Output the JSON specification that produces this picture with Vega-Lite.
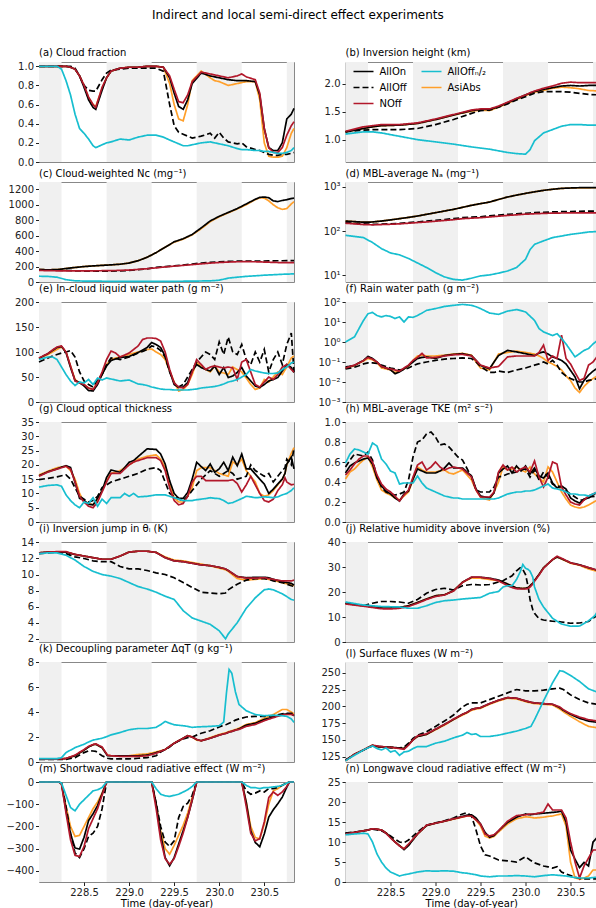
{
"$schema":"https://vega.github.io/schema/vega-lite/v6.json",
"padding":{"left":5,"top":9,"right":0,"bottom":0},
"title":{"text":"Indirect and local semi-direct effect experiments","fontSize":12,"anchor":"middle","frame":"bounds","offset":25,"dx":-7},
"columns":2,
"spacing":{"row":20,"column":51.5},
"bounds":"flush",
"resolve":{"scale":{"color":"independent","strokeDash":"independent"},"legend":{"color":"independent","strokeDash":"independent"}},
"config":{
 "font":"DejaVu Sans",
 "view":{"stroke":"#888888","strokeWidth":1},
 "title":{"fontSize":10,"fontWeight":"normal","anchor":"start","frame":"group","offset":3,"color":"#000000"},
 "axis":{"grid":false,"domain":false,"labelFontSize":10,"titleFontSize":10,"titleFontWeight":"normal","labelColor":"#222222","tickColor":"#222222","titleColor":"#000000","tickSize":3.5,"labelPadding":2,"titlePadding":1},
 "axisX":{"labels":false,"ticks":false},
 "line":{"strokeWidth":1.7,"clip":true}
},
"datasets":{
"bands":[{"x0":228,"x1":228.25},{"x0":228.75,"x1":229.25},{"x0":229.75,"x1":230.25},{"x0":230.75,"x1":230.83}],
"a":[
{"t":228.0,"on":1,"off":1,"noff":1,"n2":1,"asi":1},
{"t":228.2,"on":1,"off":1,"noff":1,"n2":1,"asi":1},
{"t":228.25,"on":1,"off":1,"noff":1,"n2":0.97,"asi":1},
{"t":228.3,"on":1,"off":1,"noff":1,"n2":0.85,"asi":1},
{"t":228.35,"on":0.99,"off":1,"noff":0.99,"n2":0.7,"asi":0.99},
{"t":228.4,"on":0.97,"off":0.98,"noff":0.97,"n2":0.5,"asi":0.97},
{"t":228.45,"on":0.9,"off":0.9,"noff":0.9,"n2":0.35,"asi":0.9},
{"t":228.5,"on":0.78,"off":0.8,"noff":0.8,"n2":0.3,"asi":0.8},
{"t":228.55,"on":0.65,"off":0.75,"noff":0.68,"n2":0.24,"asi":0.67},
{"t":228.6,"on":0.57,"off":0.74,"noff":0.6,"n2":0.17,"asi":0.6},
{"t":228.63,"on":0.55,"off":0.74,"noff":0.57,"n2":0.15,"asi":0.58},
{"t":228.7,"on":0.75,"off":0.86,"noff":0.78,"n2":0.18,"asi":0.77},
{"t":228.75,"on":0.88,"off":0.93,"noff":0.88,"n2":0.2,"asi":0.88},
{"t":228.8,"on":0.95,"off":0.96,"noff":0.95,"n2":0.21,"asi":0.95},
{"t":228.9,"on":0.98,"off":0.97,"noff":0.98,"n2":0.24,"asi":0.98},
{"t":229.0,"on":0.99,"off":0.98,"noff":0.99,"n2":0.23,"asi":0.99},
{"t":229.1,"on":0.99,"off":0.98,"noff":0.99,"n2":0.26,"asi":0.99},
{"t":229.2,"on":1,"off":0.98,"noff":1,"n2":0.28,"asi":1},
{"t":229.3,"on":1,"off":0.98,"noff":1,"n2":0.28,"asi":1},
{"t":229.38,"on":0.99,"off":0.95,"noff":0.99,"n2":0.26,"asi":0.99},
{"t":229.45,"on":0.88,"off":0.6,"noff":0.9,"n2":0.23,"asi":0.82},
{"t":229.5,"on":0.72,"off":0.38,"noff":0.76,"n2":0.21,"asi":0.6},
{"t":229.55,"on":0.58,"off":0.31,"noff":0.63,"n2":0.19,"asi":0.45},
{"t":229.6,"on":0.55,"off":0.29,"noff":0.62,"n2":0.17,"asi":0.43},
{"t":229.65,"on":0.65,"off":0.27,"noff":0.7,"n2":0.17,"asi":0.6},
{"t":229.7,"on":0.82,"off":0.25,"noff":0.84,"n2":0.18,"asi":0.85},
{"t":229.8,"on":0.93,"off":0.27,"noff":0.94,"n2":0.2,"asi":0.95},
{"t":229.9,"on":0.9,"off":0.3,"noff":0.92,"n2":0.21,"asi":0.88},
{"t":229.95,"on":0.89,"off":0.25,"noff":0.91,"n2":0.2,"asi":0.85},
{"t":230.0,"on":0.88,"off":0.31,"noff":0.9,"n2":0.19,"asi":0.84},
{"t":230.05,"on":0.87,"off":0.25,"noff":0.89,"n2":0.18,"asi":0.82},
{"t":230.1,"on":0.86,"off":0.21,"noff":0.88,"n2":0.17,"asi":0.8},
{"t":230.2,"on":0.85,"off":0.19,"noff":0.9,"n2":0.14,"asi":0.82},
{"t":230.25,"on":0.85,"off":0.2,"noff":0.92,"n2":0.13,"asi":0.83},
{"t":230.3,"on":0.85,"off":0.16,"noff":0.89,"n2":0.13,"asi":0.84},
{"t":230.4,"on":0.84,"off":0.13,"noff":0.86,"n2":0.12,"asi":0.84},
{"t":230.45,"on":0.7,"off":0.12,"noff":0.72,"n2":0.12,"asi":0.65},
{"t":230.5,"on":0.35,"off":0.1,"noff":0.35,"n2":0.11,"asi":0.2},
{"t":230.55,"on":0.15,"off":0.08,"noff":0.15,"n2":0.11,"asi":0.06},
{"t":230.6,"on":0.12,"off":0.07,"noff":0.1,"n2":0.1,"asi":0.05},
{"t":230.65,"on":0.12,"off":0.07,"noff":0.1,"n2":0.09,"asi":0.05},
{"t":230.7,"on":0.2,"off":0.08,"noff":0.15,"n2":0.09,"asi":0.06},
{"t":230.75,"on":0.45,"off":0.08,"noff":0.28,"n2":0.1,"asi":0.15},
{"t":230.8,"on":0.5,"off":0.09,"noff":0.38,"n2":0.12,"asi":0.3},
{"t":230.83,"on":0.56,"off":0.1,"noff":0.42,"n2":0.15,"asi":0.35}
],
"b":[
{"t":228.0,"on":1.14,"off":1.14,"noff":1.15,"n2":1.1,"asi":1.14},
{"t":228.2,"on":1.2,"off":1.17,"noff":1.23,"n2":1.14,"asi":1.2},
{"t":228.3,"on":1.23,"off":1.18,"noff":1.25,"n2":1.14,"asi":1.23},
{"t":228.4,"on":1.25,"off":1.18,"noff":1.27,"n2":1.12,"asi":1.25},
{"t":228.6,"on":1.26,"off":1.18,"noff":1.27,"n2":1.06,"asi":1.26},
{"t":228.8,"on":1.29,"off":1.2,"noff":1.3,"n2":1.0,"asi":1.29},
{"t":229.0,"on":1.36,"off":1.27,"noff":1.37,"n2":0.96,"asi":1.36},
{"t":229.2,"on":1.44,"off":1.36,"noff":1.45,"n2":0.92,"asi":1.44},
{"t":229.4,"on":1.52,"off":1.47,"noff":1.53,"n2":0.87,"asi":1.51},
{"t":229.5,"on":1.54,"off":1.52,"noff":1.55,"n2":0.85,"asi":1.53},
{"t":229.6,"on":1.54,"off":1.53,"noff":1.55,"n2":0.83,"asi":1.52},
{"t":229.7,"on":1.59,"off":1.58,"noff":1.6,"n2":0.8,"asi":1.58},
{"t":229.8,"on":1.66,"off":1.64,"noff":1.67,"n2":0.77,"asi":1.65},
{"t":229.9,"on":1.73,"off":1.71,"noff":1.74,"n2":0.75,"asi":1.72},
{"t":230.0,"on":1.8,"off":1.77,"noff":1.8,"n2":0.74,"asi":1.79},
{"t":230.05,"on":1.83,"off":1.8,"noff":1.84,"n2":0.82,"asi":1.82},
{"t":230.1,"on":1.86,"off":1.83,"noff":1.87,"n2":0.98,"asi":1.85},
{"t":230.2,"on":1.9,"off":1.86,"noff":1.92,"n2":1.12,"asi":1.88},
{"t":230.3,"on":1.93,"off":1.86,"noff":1.96,"n2":1.18,"asi":1.92},
{"t":230.4,"on":1.96,"off":1.86,"noff":2.01,"n2":1.24,"asi":1.94},
{"t":230.5,"on":1.97,"off":1.85,"noff":2.03,"n2":1.27,"asi":1.93},
{"t":230.6,"on":1.96,"off":1.83,"noff":2.02,"n2":1.27,"asi":1.91},
{"t":230.7,"on":1.97,"off":1.81,"noff":2.02,"n2":1.26,"asi":1.88},
{"t":230.83,"on":1.97,"off":1.8,"noff":2.02,"n2":1.26,"asi":1.87}
],
"c":[
{"t":228.0,"on":160,"off":160,"noff":150,"n2":75,"asi":160},
{"t":228.1,"on":158,"off":155,"noff":147,"n2":72,"asi":158},
{"t":228.2,"on":160,"off":152,"noff":145,"n2":62,"asi":160},
{"t":228.3,"on":175,"off":150,"noff":145,"n2":30,"asi":175},
{"t":228.4,"on":188,"off":145,"noff":145,"n2":15,"asi":188},
{"t":228.5,"on":200,"off":142,"noff":145,"n2":12,"asi":200},
{"t":228.6,"on":208,"off":140,"noff":145,"n2":11,"asi":208},
{"t":228.7,"on":215,"off":140,"noff":146,"n2":10,"asi":215},
{"t":228.8,"on":222,"off":142,"noff":148,"n2":9,"asi":222},
{"t":228.9,"on":230,"off":145,"noff":150,"n2":9,"asi":230},
{"t":229.0,"on":245,"off":150,"noff":155,"n2":8,"asi":245},
{"t":229.1,"on":275,"off":160,"noff":163,"n2":8,"asi":275},
{"t":229.2,"on":320,"off":170,"noff":172,"n2":8,"asi":320},
{"t":229.3,"on":380,"off":190,"noff":183,"n2":8,"asi":380},
{"t":229.4,"on":450,"off":200,"noff":195,"n2":9,"asi":450},
{"t":229.5,"on":520,"off":210,"noff":205,"n2":9,"asi":515},
{"t":229.6,"on":560,"off":220,"noff":215,"n2":10,"asi":555},
{"t":229.7,"on":615,"off":232,"noff":225,"n2":11,"asi":610},
{"t":229.8,"on":700,"off":245,"noff":235,"n2":13,"asi":690},
{"t":229.9,"on":790,"off":255,"noff":245,"n2":15,"asi":780},
{"t":230.0,"on":850,"off":262,"noff":252,"n2":23,"asi":845},
{"t":230.1,"on":900,"off":266,"noff":258,"n2":50,"asi":895},
{"t":230.2,"on":950,"off":270,"noff":262,"n2":62,"asi":945},
{"t":230.3,"on":1010,"off":272,"noff":263,"n2":73,"asi":1000},
{"t":230.4,"on":1070,"off":272,"noff":262,"n2":80,"asi":1065},
{"t":230.45,"on":1095,"off":272,"noff":260,"n2":84,"asi":1090},
{"t":230.5,"on":1100,"off":272,"noff":258,"n2":88,"asi":1085},
{"t":230.55,"on":1090,"off":273,"noff":256,"n2":91,"asi":1050},
{"t":230.6,"on":1050,"off":274,"noff":254,"n2":94,"asi":1000},
{"t":230.65,"on":1040,"off":275,"noff":252,"n2":97,"asi":960},
{"t":230.7,"on":1055,"off":275,"noff":251,"n2":100,"asi":940},
{"t":230.75,"on":1065,"off":276,"noff":250,"n2":102,"asi":950},
{"t":230.8,"on":1080,"off":276,"noff":250,"n2":104,"asi":1010},
{"t":230.83,"on":1085,"off":276,"noff":250,"n2":105,"asi":1040}
],
"d":[
{"t":228.0,"on":168,"off":154,"noff":150,"n2":80,"asi":168},
{"t":228.2,"on":158,"off":145,"noff":140,"n2":71,"asi":158},
{"t":228.3,"on":160,"off":141,"noff":138,"n2":55,"asi":160},
{"t":228.4,"on":168,"off":143,"noff":140,"n2":40,"asi":168},
{"t":228.5,"on":178,"off":146,"noff":142,"n2":32,"asi":178},
{"t":228.6,"on":190,"off":149,"noff":145,"n2":29,"asi":190},
{"t":228.7,"on":203,"off":155,"noff":150,"n2":24,"asi":203},
{"t":228.8,"on":218,"off":160,"noff":155,"n2":19,"asi":218},
{"t":228.9,"on":238,"off":168,"noff":160,"n2":15,"asi":238},
{"t":229.0,"on":259,"off":175,"noff":166,"n2":11.5,"asi":259},
{"t":229.1,"on":283,"off":182,"noff":173,"n2":9.2,"asi":283},
{"t":229.2,"on":308,"off":190,"noff":180,"n2":8.1,"asi":308},
{"t":229.3,"on":342,"off":200,"noff":190,"n2":7.8,"asi":342},
{"t":229.4,"on":380,"off":205,"noff":195,"n2":8.6,"asi":380},
{"t":229.5,"on":415,"off":210,"noff":200,"n2":9.7,"asi":415},
{"t":229.6,"on":450,"off":220,"noff":208,"n2":10.2,"asi":450},
{"t":229.7,"on":515,"off":228,"noff":216,"n2":11.2,"asi":515},
{"t":229.8,"on":585,"off":237,"noff":225,"n2":12.5,"asi":585},
{"t":229.9,"on":645,"off":245,"noff":232,"n2":15,"asi":645},
{"t":230.0,"on":707,"off":252,"noff":240,"n2":23,"asi":707},
{"t":230.05,"on":735,"off":255,"noff":242,"n2":38,"asi":735},
{"t":230.1,"on":765,"off":259,"noff":245,"n2":50,"asi":765},
{"t":230.2,"on":827,"off":265,"noff":250,"n2":60,"asi":827},
{"t":230.3,"on":875,"off":269,"noff":253,"n2":71,"asi":875},
{"t":230.4,"on":917,"off":273,"noff":255,"n2":77,"asi":917},
{"t":230.5,"on":935,"off":276,"noff":256,"n2":84,"asi":930},
{"t":230.6,"on":950,"off":279,"noff":257,"n2":89,"asi":940},
{"t":230.7,"on":955,"off":281,"noff":258,"n2":95,"asi":945},
{"t":230.83,"on":960,"off":283,"noff":258,"n2":98,"asi":950}
],
"e":[
{"t":228.0,"on":87,"off":80,"noff":88,"n2":85,"asi":87},
{"t":228.1,"on":97,"off":88,"noff":97,"n2":90,"asi":95},
{"t":228.15,"on":103,"off":92,"noff":104,"n2":90,"asi":100},
{"t":228.2,"on":109,"off":95,"noff":110,"n2":85,"asi":105},
{"t":228.25,"on":111,"off":98,"noff":112,"n2":70,"asi":110},
{"t":228.3,"on":99,"off":100,"noff":100,"n2":55,"asi":100},
{"t":228.35,"on":69,"off":103,"noff":72,"n2":42,"asi":72},
{"t":228.4,"on":43,"off":90,"noff":42,"n2":33,"asi":45},
{"t":228.45,"on":39,"off":60,"noff":38,"n2":40,"asi":38},
{"t":228.5,"on":32,"off":42,"noff":35,"n2":38,"asi":35},
{"t":228.55,"on":23,"off":35,"noff":28,"n2":45,"asi":28},
{"t":228.6,"on":22,"off":30,"noff":25,"n2":35,"asi":25},
{"t":228.65,"on":35,"off":45,"noff":38,"n2":48,"asi":40},
{"t":228.7,"on":55,"off":55,"noff":60,"n2":44,"asi":55},
{"t":228.75,"on":72,"off":75,"noff":85,"n2":48,"asi":75},
{"t":228.8,"on":83,"off":88,"noff":102,"n2":46,"asi":85},
{"t":228.85,"on":86,"off":87,"noff":98,"n2":44,"asi":88},
{"t":228.9,"on":89,"off":85,"noff":90,"n2":42,"asi":90},
{"t":229.0,"on":91,"off":90,"noff":98,"n2":44,"asi":95},
{"t":229.1,"on":99,"off":98,"noff":112,"n2":36,"asi":100},
{"t":229.15,"on":104,"off":101,"noff":125,"n2":35,"asi":102},
{"t":229.2,"on":109,"off":105,"noff":128,"n2":33,"asi":105},
{"t":229.25,"on":119,"off":112,"noff":128,"n2":30,"asi":106},
{"t":229.3,"on":115,"off":110,"noff":127,"n2":28,"asi":100},
{"t":229.35,"on":109,"off":103,"noff":122,"n2":26,"asi":95},
{"t":229.4,"on":92,"off":90,"noff":100,"n2":25,"asi":85},
{"t":229.45,"on":62,"off":60,"noff":65,"n2":25,"asi":62},
{"t":229.5,"on":35,"off":38,"noff":38,"n2":24,"asi":40},
{"t":229.55,"on":29,"off":30,"noff":30,"n2":24,"asi":22},
{"t":229.6,"on":30,"off":35,"noff":28,"n2":24,"asi":25},
{"t":229.65,"on":39,"off":50,"noff":35,"n2":24,"asi":35},
{"t":229.7,"on":62,"off":65,"noff":60,"n2":25,"asi":55},
{"t":229.75,"on":75,"off":80,"noff":85,"n2":26,"asi":80},
{"t":229.8,"on":69,"off":90,"noff":75,"n2":28,"asi":70},
{"t":229.85,"on":65,"off":100,"noff":65,"n2":29,"asi":65},
{"t":229.9,"on":62,"off":95,"noff":70,"n2":30,"asi":60},
{"t":229.95,"on":72,"off":85,"noff":72,"n2":31,"asi":72},
{"t":230.0,"on":55,"off":120,"noff":70,"n2":33,"asi":60},
{"t":230.05,"on":69,"off":95,"noff":68,"n2":36,"asi":58},
{"t":230.1,"on":49,"off":130,"noff":70,"n2":40,"asi":55},
{"t":230.15,"on":52,"off":100,"noff":68,"n2":42,"asi":70},
{"t":230.2,"on":59,"off":95,"noff":45,"n2":45,"asi":65},
{"t":230.25,"on":69,"off":115,"noff":80,"n2":50,"asi":60},
{"t":230.3,"on":52,"off":85,"noff":85,"n2":55,"asi":48},
{"t":230.35,"on":42,"off":75,"noff":60,"n2":65,"asi":35},
{"t":230.4,"on":32,"off":100,"noff":35,"n2":62,"asi":25},
{"t":230.45,"on":29,"off":80,"noff":30,"n2":60,"asi":28},
{"t":230.5,"on":35,"off":105,"noff":40,"n2":58,"asi":45},
{"t":230.55,"on":42,"off":60,"noff":50,"n2":57,"asi":40},
{"t":230.6,"on":45,"off":85,"noff":45,"n2":57,"asi":50},
{"t":230.65,"on":49,"off":100,"noff":55,"n2":58,"asi":60},
{"t":230.7,"on":62,"off":75,"noff":70,"n2":65,"asi":55},
{"t":230.75,"on":75,"off":115,"noff":75,"n2":70,"asi":70},
{"t":230.8,"on":69,"off":138,"noff":65,"n2":78,"asi":88},
{"t":230.83,"on":59,"off":60,"noff":60,"n2":80,"asi":92}
],
"f":[
{"t":228.0,"on":0.056,"off":0.045,"noff":0.05,"n2":1,"asi":0.05},
{"t":228.1,"on":0.067,"off":0.055,"noff":0.07,"n2":1.8,"asi":0.065},
{"t":228.15,"on":0.09,"off":0.065,"noff":0.09,"n2":4.7,"asi":0.09},
{"t":228.2,"on":0.12,"off":0.08,"noff":0.12,"n2":12,"asi":0.11},
{"t":228.25,"on":0.19,"off":0.09,"noff":0.17,"n2":26,"asi":0.15},
{"t":228.3,"on":0.15,"off":0.09,"noff":0.14,"n2":30,"asi":0.13},
{"t":228.35,"on":0.1,"off":0.085,"noff":0.1,"n2":21,"asi":0.09},
{"t":228.4,"on":0.06,"off":0.07,"noff":0.06,"n2":18,"asi":0.05},
{"t":228.45,"on":0.05,"off":0.06,"noff":0.05,"n2":21,"asi":0.045},
{"t":228.5,"on":0.041,"off":0.05,"noff":0.045,"n2":19,"asi":0.04},
{"t":228.55,"on":0.026,"off":0.045,"noff":0.04,"n2":15,"asi":0.03},
{"t":228.6,"on":0.032,"off":0.04,"noff":0.035,"n2":18,"asi":0.035},
{"t":228.65,"on":0.045,"off":0.042,"noff":0.05,"n2":10,"asi":0.045},
{"t":228.7,"on":0.067,"off":0.05,"noff":0.07,"n2":18,"asi":0.06},
{"t":228.75,"on":0.1,"off":0.065,"noff":0.12,"n2":17,"asi":0.12},
{"t":228.8,"on":0.15,"off":0.08,"noff":0.17,"n2":21,"asi":0.2},
{"t":228.85,"on":0.17,"off":0.09,"noff":0.27,"n2":28,"asi":0.22},
{"t":228.9,"on":0.18,"off":0.1,"noff":0.16,"n2":38,"asi":0.2},
{"t":229.0,"on":0.15,"off":0.12,"noff":0.17,"n2":47,"asi":0.2},
{"t":229.1,"on":0.21,"off":0.14,"noff":0.2,"n2":60,"asi":0.22},
{"t":229.2,"on":0.24,"off":0.15,"noff":0.23,"n2":68,"asi":0.25},
{"t":229.3,"on":0.26,"off":0.16,"noff":0.24,"n2":76,"asi":0.27},
{"t":229.4,"on":0.21,"off":0.15,"noff":0.2,"n2":68,"asi":0.22},
{"t":229.45,"on":0.12,"off":0.1,"noff":0.12,"n2":58,"asi":0.1},
{"t":229.5,"on":0.067,"off":0.06,"noff":0.07,"n2":47,"asi":0.05},
{"t":229.6,"on":0.046,"off":0.03,"noff":0.05,"n2":28,"asi":0.04},
{"t":229.65,"on":0.1,"off":0.03,"noff":0.055,"n2":26,"asi":0.1},
{"t":229.7,"on":0.21,"off":0.035,"noff":0.06,"n2":24,"asi":0.25},
{"t":229.8,"on":0.38,"off":0.03,"noff":0.18,"n2":35,"asi":0.3},
{"t":229.9,"on":0.32,"off":0.04,"noff":0.2,"n2":42,"asi":0.35},
{"t":230.0,"on":0.26,"off":0.05,"noff":0.2,"n2":32,"asi":0.3},
{"t":230.1,"on":0.21,"off":0.07,"noff":0.2,"n2":12,"asi":0.25},
{"t":230.15,"on":0.28,"off":0.08,"noff":0.3,"n2":4.7,"asi":0.2},
{"t":230.2,"on":0.32,"off":0.1,"noff":0.7,"n2":3.2,"asi":0.15},
{"t":230.25,"on":0.25,"off":0.08,"noff":0.12,"n2":2.6,"asi":0.1},
{"t":230.3,"on":0.18,"off":0.12,"noff":0.2,"n2":2.1,"asi":0.08},
{"t":230.35,"on":0.15,"off":0.07,"noff":0.15,"n2":2.6,"asi":0.06},
{"t":230.4,"on":0.12,"off":0.03,"noff":2.2,"n2":1.5,"asi":0.04},
{"t":230.45,"on":0.08,"off":0.02,"noff":0.15,"n2":0.8,"asi":0.02},
{"t":230.5,"on":0.038,"off":0.015,"noff":0.08,"n2":0.38,"asi":0.012},
{"t":230.55,"on":0.018,"off":0.012,"noff":0.03,"n2":0.18,"asi":0.005},
{"t":230.6,"on":0.0046,"off":0.01,"noff":0.012,"n2":0.26,"asi":0.003},
{"t":230.65,"on":0.012,"off":0.01,"noff":0.015,"n2":0.38,"asi":0.006},
{"t":230.7,"on":0.022,"off":0.012,"noff":0.07,"n2":0.47,"asi":0.01},
{"t":230.75,"on":0.035,"off":0.013,"noff":0.1,"n2":0.8,"asi":0.015},
{"t":230.8,"on":0.05,"off":0.015,"noff":0.2,"n2":1.2,"asi":0.02},
{"t":230.83,"on":0.08,"off":0.016,"noff":0.25,"n2":2,"asi":0.03}
],
"g":[
{"t":228.0,"on":16.2,"off":14.8,"noff":16,"n2":12.2,"asi":16.5},
{"t":228.1,"on":17.6,"off":15.3,"noff":17.5,"n2":12.8,"asi":17.8},
{"t":228.2,"on":18.6,"off":15.8,"noff":18.5,"n2":13,"asi":19},
{"t":228.25,"on":19.2,"off":16.2,"noff":19,"n2":12.5,"asi":19.3},
{"t":228.3,"on":19.7,"off":16.5,"noff":19.5,"n2":9.5,"asi":19.5},
{"t":228.35,"on":19.1,"off":15,"noff":18.5,"n2":7.5,"asi":18},
{"t":228.4,"on":13.9,"off":12,"noff":14,"n2":6,"asi":15},
{"t":228.45,"on":8.3,"off":9,"noff":9,"n2":5,"asi":10},
{"t":228.5,"on":7.6,"off":8,"noff":7,"n2":7,"asi":7},
{"t":228.55,"on":6.2,"off":7,"noff":5.5,"n2":6.5,"asi":6.5},
{"t":228.6,"on":6,"off":7.5,"noff":5,"n2":8.5,"asi":6},
{"t":228.65,"on":8.3,"off":9,"noff":7,"n2":5.5,"asi":8},
{"t":228.7,"on":10.9,"off":12,"noff":10.5,"n2":8,"asi":11},
{"t":228.75,"on":15.6,"off":13,"noff":14,"n2":6.5,"asi":14.5},
{"t":228.8,"on":18.2,"off":14,"noff":17,"n2":8.5,"asi":17},
{"t":228.9,"on":17.4,"off":15,"noff":17,"n2":8.5,"asi":18},
{"t":228.95,"on":19,"off":15.5,"noff":18.5,"n2":10,"asi":19},
{"t":229.0,"on":20.9,"off":16,"noff":20,"n2":9,"asi":20},
{"t":229.05,"on":21.5,"off":16.5,"noff":21,"n2":10,"asi":21},
{"t":229.1,"on":22.9,"off":17,"noff":21.5,"n2":8.8,"asi":22},
{"t":229.2,"on":25.6,"off":18.5,"noff":22.5,"n2":9,"asi":23},
{"t":229.3,"on":25.4,"off":19,"noff":22.5,"n2":9.5,"asi":23.5},
{"t":229.35,"on":23.8,"off":18,"noff":21.5,"n2":9.5,"asi":22},
{"t":229.4,"on":20.3,"off":14,"noff":18,"n2":9.5,"asi":19},
{"t":229.45,"on":14.4,"off":10,"noff":12,"n2":9,"asi":13},
{"t":229.5,"on":10,"off":9,"noff":7.5,"n2":8.5,"asi":8.5},
{"t":229.55,"on":8.3,"off":8,"noff":6,"n2":8,"asi":7},
{"t":229.6,"on":8.3,"off":7.5,"noff":6.5,"n2":7.5,"asi":7},
{"t":229.65,"on":10.3,"off":9,"noff":9,"n2":7.5,"asi":9},
{"t":229.7,"on":15,"off":11,"noff":14,"n2":7.5,"asi":12},
{"t":229.75,"on":20.9,"off":13,"noff":16,"n2":7.8,"asi":18},
{"t":229.8,"on":19.4,"off":15,"noff":16,"n2":8,"asi":19},
{"t":229.85,"on":18,"off":16.5,"noff":14.5,"n2":8.2,"asi":19},
{"t":229.9,"on":20.3,"off":18,"noff":14.5,"n2":8.5,"asi":19},
{"t":229.95,"on":17.4,"off":17,"noff":14.5,"n2":8.3,"asi":18},
{"t":230.0,"on":18.6,"off":16,"noff":14.5,"n2":8.2,"asi":17},
{"t":230.05,"on":20.9,"off":17,"noff":14.5,"n2":7.5,"asi":16.5},
{"t":230.1,"on":18,"off":18,"noff":14.5,"n2":6.5,"asi":16},
{"t":230.15,"on":22.7,"off":17,"noff":14.8,"n2":6.8,"asi":21},
{"t":230.2,"on":19.7,"off":15,"noff":13.5,"n2":7.5,"asi":20},
{"t":230.25,"on":23.8,"off":15.5,"noff":10.5,"n2":8.2,"asi":22},
{"t":230.3,"on":18.6,"off":16,"noff":13,"n2":9,"asi":18},
{"t":230.35,"on":18.6,"off":20,"noff":16,"n2":8.8,"asi":16},
{"t":230.4,"on":16.8,"off":18,"noff":13,"n2":8.5,"asi":14},
{"t":230.45,"on":15,"off":17,"noff":10,"n2":8.6,"asi":10},
{"t":230.5,"on":13.3,"off":16,"noff":7.5,"n2":8.8,"asi":9},
{"t":230.55,"on":10,"off":17,"noff":7,"n2":8.7,"asi":9.5},
{"t":230.6,"on":11.5,"off":14,"noff":8,"n2":8.5,"asi":11},
{"t":230.65,"on":13.3,"off":16,"noff":11,"n2":8.8,"asi":13},
{"t":230.7,"on":15,"off":18,"noff":13,"n2":9.5,"asi":15},
{"t":230.73,"on":17,"off":19,"noff":15.5,"n2":9.8,"asi":17},
{"t":230.75,"on":20.3,"off":22,"noff":14,"n2":10,"asi":20},
{"t":230.8,"on":22.7,"off":20,"noff":13,"n2":11,"asi":24},
{"t":230.83,"on":18.6,"off":26,"noff":13.2,"n2":12,"asi":26}
],
"h":[
{"t":228.0,"on":0.49,"off":0.55,"noff":0.47,"n2":0.59,"asi":0.43},
{"t":228.05,"on":0.56,"off":0.62,"noff":0.52,"n2":0.68,"asi":0.5},
{"t":228.1,"on":0.59,"off":0.68,"noff":0.58,"n2":0.73,"asi":0.53},
{"t":228.15,"on":0.61,"off":0.67,"noff":0.63,"n2":0.72,"asi":0.58},
{"t":228.2,"on":0.63,"off":0.66,"noff":0.66,"n2":0.7,"asi":0.62},
{"t":228.25,"on":0.64,"off":0.7,"noff":0.66,"n2":0.68,"asi":0.65},
{"t":228.3,"on":0.58,"off":0.62,"noff":0.6,"n2":0.79,"asi":0.55},
{"t":228.35,"on":0.44,"off":0.45,"noff":0.47,"n2":0.76,"asi":0.42},
{"t":228.4,"on":0.36,"off":0.35,"noff":0.38,"n2":0.63,"asi":0.32},
{"t":228.45,"on":0.31,"off":0.3,"noff":0.33,"n2":0.58,"asi":0.29},
{"t":228.5,"on":0.28,"off":0.28,"noff":0.3,"n2":0.51,"asi":0.27},
{"t":228.55,"on":0.24,"off":0.27,"noff":0.26,"n2":0.49,"asi":0.24},
{"t":228.6,"on":0.21,"off":0.28,"noff":0.21,"n2":0.38,"asi":0.22},
{"t":228.65,"on":0.28,"off":0.3,"noff":0.27,"n2":0.39,"asi":0.26},
{"t":228.7,"on":0.31,"off":0.42,"noff":0.32,"n2":0.39,"asi":0.3},
{"t":228.75,"on":0.43,"off":0.65,"noff":0.45,"n2":0.39,"asi":0.42},
{"t":228.8,"on":0.53,"off":0.8,"noff":0.57,"n2":0.46,"asi":0.55},
{"t":228.85,"on":0.51,"off":0.82,"noff":0.6,"n2":0.39,"asi":0.52},
{"t":228.9,"on":0.49,"off":0.88,"noff":0.52,"n2":0.34,"asi":0.5},
{"t":228.95,"on":0.49,"off":0.9,"noff":0.55,"n2":0.32,"asi":0.5},
{"t":229.0,"on":0.49,"off":0.85,"noff":0.6,"n2":0.3,"asi":0.5},
{"t":229.05,"on":0.51,"off":0.77,"noff":0.55,"n2":0.28,"asi":0.51},
{"t":229.1,"on":0.54,"off":0.78,"noff":0.52,"n2":0.26,"asi":0.52},
{"t":229.15,"on":0.59,"off":0.75,"noff":0.54,"n2":0.25,"asi":0.49},
{"t":229.2,"on":0.54,"off":0.7,"noff":0.55,"n2":0.24,"asi":0.48},
{"t":229.25,"on":0.54,"off":0.65,"noff":0.54,"n2":0.24,"asi":0.5},
{"t":229.3,"on":0.54,"off":0.62,"noff":0.53,"n2":0.23,"asi":0.52},
{"t":229.4,"on":0.46,"off":0.45,"noff":0.45,"n2":0.23,"asi":0.42},
{"t":229.45,"on":0.33,"off":0.32,"noff":0.32,"n2":0.23,"asi":0.32},
{"t":229.5,"on":0.26,"off":0.3,"noff":0.25,"n2":0.23,"asi":0.25},
{"t":229.55,"on":0.25,"off":0.3,"noff":0.25,"n2":0.23,"asi":0.23},
{"t":229.6,"on":0.24,"off":0.3,"noff":0.25,"n2":0.23,"asi":0.22},
{"t":229.65,"on":0.29,"off":0.35,"noff":0.3,"n2":0.23,"asi":0.3},
{"t":229.7,"on":0.49,"off":0.45,"noff":0.5,"n2":0.24,"asi":0.4},
{"t":229.75,"on":0.53,"off":0.46,"noff":0.57,"n2":0.26,"asi":0.55},
{"t":229.8,"on":0.56,"off":0.48,"noff":0.52,"n2":0.28,"asi":0.52},
{"t":229.85,"on":0.49,"off":0.49,"noff":0.55,"n2":0.29,"asi":0.53},
{"t":229.9,"on":0.56,"off":0.5,"noff":0.5,"n2":0.3,"asi":0.55},
{"t":229.95,"on":0.51,"off":0.52,"noff":0.53,"n2":0.3,"asi":0.52},
{"t":230.0,"on":0.56,"off":0.53,"noff":0.55,"n2":0.31,"asi":0.5},
{"t":230.05,"on":0.48,"off":0.45,"noff":0.5,"n2":0.31,"asi":0.55},
{"t":230.1,"on":0.54,"off":0.52,"noff":0.61,"n2":0.32,"asi":0.48},
{"t":230.15,"on":0.46,"off":0.42,"noff":0.45,"n2":0.34,"asi":0.44},
{"t":230.2,"on":0.44,"off":0.5,"noff":0.35,"n2":0.36,"asi":0.4},
{"t":230.25,"on":0.49,"off":0.45,"noff":0.45,"n2":0.38,"asi":0.55},
{"t":230.3,"on":0.39,"off":0.38,"noff":0.6,"n2":0.34,"asi":0.5},
{"t":230.35,"on":0.34,"off":0.36,"noff":0.58,"n2":0.33,"asi":0.4},
{"t":230.4,"on":0.36,"off":0.35,"noff":0.35,"n2":0.32,"asi":0.3},
{"t":230.45,"on":0.33,"off":0.31,"noff":0.27,"n2":0.3,"asi":0.23},
{"t":230.5,"on":0.24,"off":0.28,"noff":0.2,"n2":0.28,"asi":0.17},
{"t":230.55,"on":0.21,"off":0.25,"noff":0.18,"n2":0.28,"asi":0.15},
{"t":230.6,"on":0.19,"off":0.22,"noff":0.17,"n2":0.27,"asi":0.14},
{"t":230.65,"on":0.23,"off":0.22,"noff":0.22,"n2":0.27,"asi":0.15},
{"t":230.7,"on":0.24,"off":0.25,"noff":0.26,"n2":0.26,"asi":0.17},
{"t":230.8,"on":0.3,"off":0.26,"noff":0.3,"n2":0.3,"asi":0.22},
{"t":230.83,"on":0.35,"off":0.28,"noff":0.32,"n2":0.4,"asi":0.25}
],
"i":[
{"t":228.0,"on":12.7,"off":12.6,"noff":12.7,"n2":12.6,"asi":12.7},
{"t":228.1,"on":12.8,"off":12.7,"noff":12.8,"n2":12.7,"asi":12.8},
{"t":228.2,"on":12.8,"off":12.8,"noff":12.85,"n2":12.7,"asi":12.8},
{"t":228.3,"on":12.8,"off":12.6,"noff":12.85,"n2":12.4,"asi":12.8},
{"t":228.4,"on":12.5,"off":12.2,"noff":12.5,"n2":11.8,"asi":12.5},
{"t":228.5,"on":12.3,"off":12,"noff":12.3,"n2":11,"asi":12.3},
{"t":228.6,"on":12.1,"off":11.7,"noff":12.1,"n2":10.4,"asi":12.1},
{"t":228.7,"on":11.9,"off":11.6,"noff":11.9,"n2":10,"asi":11.9},
{"t":228.8,"on":11.9,"off":11.6,"noff":11.9,"n2":9.8,"asi":11.9},
{"t":228.9,"on":12.3,"off":11,"noff":12.3,"n2":9.5,"asi":12.3},
{"t":229.0,"on":12.8,"off":10.7,"noff":12.8,"n2":9,"asi":12.8},
{"t":229.1,"on":12.9,"off":10.7,"noff":12.9,"n2":8.5,"asi":12.9},
{"t":229.2,"on":12.9,"off":10.5,"noff":12.9,"n2":8.2,"asi":12.9},
{"t":229.3,"on":12.75,"off":10.2,"noff":12.75,"n2":7.8,"asi":12.75},
{"t":229.4,"on":12.1,"off":10,"noff":12.1,"n2":7.3,"asi":12.2},
{"t":229.5,"on":11.7,"off":9.6,"noff":11.7,"n2":6.9,"asi":11.8},
{"t":229.6,"on":11.6,"off":9,"noff":11.6,"n2":5.5,"asi":11.7},
{"t":229.7,"on":11.4,"off":8.4,"noff":11.4,"n2":4.6,"asi":11.5},
{"t":229.8,"on":11.2,"off":7.8,"noff":11.2,"n2":4.2,"asi":11.3},
{"t":229.9,"on":11.1,"off":7.7,"noff":11.1,"n2":3.8,"asi":11.1},
{"t":230.0,"on":10.9,"off":7.6,"noff":10.9,"n2":3.0,"asi":10.8},
{"t":230.07,"on":10.7,"off":7.7,"noff":10.7,"n2":2.0,"asi":10.6},
{"t":230.1,"on":10.5,"off":8.1,"noff":10.5,"n2":2.6,"asi":10.4},
{"t":230.2,"on":9.75,"off":8.8,"noff":9.75,"n2":4.0,"asi":9.5},
{"t":230.3,"on":9.6,"off":9.3,"noff":9.55,"n2":5.8,"asi":9.3},
{"t":230.4,"on":9.65,"off":9.5,"noff":9.55,"n2":7.1,"asi":9.4},
{"t":230.5,"on":9.65,"off":9.5,"noff":9.6,"n2":8.1,"asi":9.5},
{"t":230.55,"on":9.6,"off":9.4,"noff":9.5,"n2":8.2,"asi":9.4},
{"t":230.6,"on":9.4,"off":9.2,"noff":9.4,"n2":8.1,"asi":9.3},
{"t":230.7,"on":9.1,"off":9,"noff":9.2,"n2":7.6,"asi":9.0},
{"t":230.8,"on":8.9,"off":8.6,"noff":9.2,"n2":6.9,"asi":8.7},
{"t":230.83,"on":8.7,"off":8.5,"noff":9.3,"n2":6.8,"asi":8.6}
],
"j":[
{"t":228.0,"on":15.4,"off":15.5,"noff":15.2,"n2":16,"asi":15.4},
{"t":228.2,"on":14.5,"off":14.5,"noff":14.3,"n2":14.8,"asi":14.5},
{"t":228.3,"on":14,"off":15.5,"noff":13.8,"n2":14.5,"asi":14},
{"t":228.4,"on":13.6,"off":16.2,"noff":13.3,"n2":14.2,"asi":13.6},
{"t":228.5,"on":13.6,"off":16.2,"noff":13.2,"n2":14.1,"asi":13.6},
{"t":228.6,"on":13.8,"off":16,"noff":13.5,"n2":14,"asi":13.8},
{"t":228.7,"on":14.5,"off":15.5,"noff":14.2,"n2":13.5,"asi":14.5},
{"t":228.8,"on":15.8,"off":17,"noff":15.5,"n2":13.5,"asi":15.8},
{"t":228.9,"on":17.2,"off":19.5,"noff":17,"n2":14.5,"asi":17.2},
{"t":229.0,"on":18.5,"off":21,"noff":18.2,"n2":15.8,"asi":18.5},
{"t":229.1,"on":18.9,"off":21.5,"noff":18.8,"n2":16.5,"asi":18.9},
{"t":229.2,"on":20.5,"off":20.8,"noff":20.4,"n2":16.8,"asi":20.5},
{"t":229.3,"on":23.9,"off":22.5,"noff":23.8,"n2":17.2,"asi":23.9},
{"t":229.4,"on":25.9,"off":23,"noff":26,"n2":17.5,"asi":25.6},
{"t":229.5,"on":25.9,"off":22.8,"noff":25.9,"n2":17.8,"asi":25.5},
{"t":229.6,"on":25.5,"off":23,"noff":25.4,"n2":19.5,"asi":25},
{"t":229.7,"on":24.8,"off":24,"noff":24.5,"n2":20.2,"asi":24.5},
{"t":229.75,"on":24,"off":24.5,"noff":23.5,"n2":22,"asi":24},
{"t":229.8,"on":23.2,"off":25.5,"noff":22.5,"n2":22.5,"asi":23.2},
{"t":229.85,"on":22.4,"off":26.5,"noff":21.8,"n2":22.5,"asi":22.4},
{"t":229.9,"on":21.6,"off":28.5,"noff":21.3,"n2":25,"asi":21.6},
{"t":229.94,"on":21.5,"off":29.7,"noff":21.2,"n2":28,"asi":21.5},
{"t":229.97,"on":21.4,"off":29,"noff":21.2,"n2":31,"asi":21.4},
{"t":230.0,"on":21.5,"off":27,"noff":21.2,"n2":29.5,"asi":21.5},
{"t":230.03,"on":21.8,"off":22,"noff":21.5,"n2":29,"asi":21.8},
{"t":230.05,"on":22.5,"off":17,"noff":22,"n2":28.3,"asi":22.5},
{"t":230.08,"on":23.5,"off":13,"noff":23.2,"n2":26,"asi":23.5},
{"t":230.1,"on":24.6,"off":11.5,"noff":24.3,"n2":22,"asi":24.6},
{"t":230.15,"on":27,"off":9.3,"noff":26.8,"n2":17,"asi":27},
{"t":230.2,"on":29.7,"off":8.8,"noff":29.5,"n2":14,"asi":29.7},
{"t":230.3,"on":32.9,"off":8.3,"noff":33,"n2":9.5,"asi":32.9},
{"t":230.35,"on":34,"off":8.2,"noff":34.3,"n2":8.3,"asi":34},
{"t":230.4,"on":33.3,"off":8,"noff":33.5,"n2":7.2,"asi":33.2},
{"t":230.5,"on":31.7,"off":7.5,"noff":31.7,"n2":6.3,"asi":31.5},
{"t":230.6,"on":30.9,"off":7.6,"noff":30.8,"n2":6.4,"asi":30.7},
{"t":230.7,"on":29.7,"off":8.2,"noff":29.8,"n2":8.5,"asi":29.2},
{"t":230.77,"on":29,"off":10,"noff":29,"n2":10.5,"asi":28.5},
{"t":230.83,"on":28.2,"off":11.5,"noff":28.5,"n2":14,"asi":28}
],
"k":[
{"t":228.0,"on":0.25,"off":0.2,"noff":0.25,"n2":0.27,"asi":0.25},
{"t":228.2,"on":0.25,"off":0.2,"noff":0.25,"n2":0.27,"asi":0.25},
{"t":228.25,"on":0.25,"off":0.2,"noff":0.25,"n2":0.35,"asi":0.25},
{"t":228.3,"on":0.28,"off":0.2,"noff":0.28,"n2":0.75,"asi":0.28},
{"t":228.4,"on":0.5,"off":0.35,"noff":0.55,"n2":1.15,"asi":0.5},
{"t":228.5,"on":0.95,"off":0.75,"noff":1.0,"n2":1.42,"asi":0.95},
{"t":228.55,"on":1.2,"off":0.9,"noff":1.25,"n2":1.6,"asi":1.2},
{"t":228.6,"on":1.38,"off":0.88,"noff":1.4,"n2":1.75,"asi":1.38},
{"t":228.63,"on":1.42,"off":0.85,"noff":1.45,"n2":1.8,"asi":1.42},
{"t":228.7,"on":1.15,"off":0.5,"noff":1.2,"n2":1.9,"asi":1.15},
{"t":228.76,"on":0.5,"off":0.3,"noff":0.55,"n2":2.05,"asi":0.55},
{"t":228.8,"on":0.5,"off":0.25,"noff":0.5,"n2":2.17,"asi":0.5},
{"t":228.9,"on":0.5,"off":0.25,"noff":0.45,"n2":2.36,"asi":0.5},
{"t":229.0,"on":0.5,"off":0.25,"noff":0.45,"n2":2.58,"asi":0.5},
{"t":229.1,"on":0.5,"off":0.3,"noff":0.45,"n2":2.68,"asi":0.6},
{"t":229.2,"on":0.55,"off":0.35,"noff":0.5,"n2":2.68,"asi":0.65},
{"t":229.3,"on":0.75,"off":0.5,"noff":0.7,"n2":2.77,"asi":0.8},
{"t":229.35,"on":0.85,"off":0.8,"noff":0.85,"n2":2.98,"asi":0.9},
{"t":229.4,"on":1.0,"off":1.0,"noff":1.0,"n2":3.25,"asi":1.0},
{"t":229.45,"on":1.25,"off":1.2,"noff":1.25,"n2":3.1,"asi":1.25},
{"t":229.5,"on":1.5,"off":1.5,"noff":1.5,"n2":2.98,"asi":1.5},
{"t":229.6,"on":1.9,"off":1.85,"noff":1.9,"n2":2.9,"asi":1.9},
{"t":229.65,"on":2.1,"off":1.95,"noff":2.1,"n2":2.85,"asi":2.1},
{"t":229.7,"on":2.0,"off":2.0,"noff":2.0,"n2":2.77,"asi":2.0},
{"t":229.75,"on":1.8,"off":2.15,"noff":1.8,"n2":2.8,"asi":1.75},
{"t":229.8,"on":1.7,"off":2.3,"noff":1.7,"n2":2.82,"asi":1.7},
{"t":229.9,"on":1.9,"off":2.5,"noff":1.9,"n2":2.85,"asi":1.95},
{"t":230.0,"on":2.15,"off":2.8,"noff":2.15,"n2":2.9,"asi":2.2},
{"t":230.05,"on":2.25,"off":2.95,"noff":2.25,"n2":3.2,"asi":2.3},
{"t":230.08,"on":2.3,"off":3.0,"noff":2.3,"n2":5.5,"asi":2.35},
{"t":230.11,"on":2.4,"off":3.1,"noff":2.4,"n2":7.4,"asi":2.45},
{"t":230.14,"on":2.45,"off":3.2,"noff":2.45,"n2":7.1,"asi":2.5},
{"t":230.18,"on":2.55,"off":3.35,"noff":2.55,"n2":5.6,"asi":2.6},
{"t":230.22,"on":2.65,"off":3.45,"noff":2.6,"n2":4.6,"asi":2.7},
{"t":230.3,"on":2.95,"off":3.6,"noff":2.85,"n2":4.1,"asi":3.0},
{"t":230.4,"on":3.1,"off":3.65,"noff":3.0,"n2":3.8,"asi":3.15},
{"t":230.5,"on":3.4,"off":3.65,"noff":3.3,"n2":3.7,"asi":3.5},
{"t":230.6,"on":3.6,"off":3.7,"noff":3.55,"n2":3.75,"asi":3.8},
{"t":230.7,"on":3.8,"off":3.85,"noff":3.75,"n2":3.7,"asi":4.2},
{"t":230.75,"on":3.85,"off":3.9,"noff":3.8,"n2":3.65,"asi":4.2},
{"t":230.8,"on":3.85,"off":3.9,"noff":3.8,"n2":3.45,"asi":4.0},
{"t":230.83,"on":3.7,"off":3.85,"noff":3.75,"n2":3.17,"asi":3.85}
],
"l":[
{"t":228.0,"on":119.5,"off":120,"noff":119,"n2":119,"asi":119},
{"t":228.1,"on":128.5,"off":128,"noff":128.5,"n2":127,"asi":128.5},
{"t":228.2,"on":135,"off":135,"noff":135,"n2":135,"asi":135},
{"t":228.3,"on":142,"off":141,"noff":142,"n2":141,"asi":142},
{"t":228.35,"on":140,"off":140,"noff":141,"n2":137,"asi":140},
{"t":228.4,"on":139.4,"off":140,"noff":140,"n2":135,"asi":139},
{"t":228.45,"on":139,"off":139,"noff":139,"n2":138,"asi":139},
{"t":228.5,"on":139.4,"off":138,"noff":139,"n2":132,"asi":139},
{"t":228.55,"on":138.5,"off":138,"noff":138,"n2":134,"asi":138},
{"t":228.6,"on":138,"off":138,"noff":137,"n2":127,"asi":138},
{"t":228.65,"on":137,"off":139,"noff":136,"n2":132,"asi":137},
{"t":228.7,"on":143,"off":145,"noff":142,"n2":133,"asi":143},
{"t":228.75,"on":150,"off":152,"noff":150,"n2":137,"asi":150},
{"t":228.8,"on":155,"off":157,"noff":156,"n2":140,"asi":155},
{"t":228.9,"on":158,"off":162,"noff":159,"n2":140,"asi":158},
{"t":229.0,"on":165.7,"off":170,"noff":166,"n2":145,"asi":165},
{"t":229.1,"on":173,"off":178,"noff":173,"n2":148,"asi":172},
{"t":229.2,"on":180.5,"off":187,"noff":181,"n2":153,"asi":180},
{"t":229.3,"on":188,"off":199,"noff":188,"n2":157,"asi":187},
{"t":229.35,"on":191,"off":203,"noff":191,"n2":161,"asi":190},
{"t":229.4,"on":195.4,"off":205,"noff":195,"n2":158,"asi":194},
{"t":229.45,"on":197,"off":205,"noff":197,"n2":159,"asi":196},
{"t":229.5,"on":198,"off":205,"noff":198,"n2":155,"asi":197},
{"t":229.6,"on":204,"off":210,"noff":204,"n2":155,"asi":203},
{"t":229.7,"on":209,"off":215,"noff":209,"n2":157,"asi":208},
{"t":229.8,"on":213,"off":220,"noff":213,"n2":160,"asi":212},
{"t":229.9,"on":212,"off":225,"noff":212,"n2":163,"asi":211},
{"t":230.0,"on":208,"off":223,"noff":208,"n2":167,"asi":207},
{"t":230.06,"on":206,"off":223,"noff":206,"n2":170,"asi":205},
{"t":230.1,"on":205,"off":223,"noff":205,"n2":180,"asi":204},
{"t":230.2,"on":204,"off":224,"noff":204,"n2":208,"asi":203},
{"t":230.3,"on":203,"off":226,"noff":203,"n2":235,"asi":202},
{"t":230.38,"on":198,"off":227,"noff":199,"n2":253,"asi":196},
{"t":230.42,"on":194,"off":225,"noff":195,"n2":252,"asi":192},
{"t":230.5,"on":188,"off":217,"noff":189,"n2":246,"asi":185},
{"t":230.6,"on":182,"off":210,"noff":184,"n2":237,"asi":177},
{"t":230.7,"on":178,"off":205,"noff":180,"n2":226,"asi":170},
{"t":230.8,"on":176,"off":203,"noff":178,"n2":221,"asi":168},
{"t":230.83,"on":175,"off":202,"noff":178,"n2":221,"asi":167}
],
"m":[
{"t":228.0,"on":0,"off":0,"noff":0,"n2":0,"asi":0},
{"t":228.22,"on":0,"off":0,"noff":0,"n2":0,"asi":0},
{"t":228.25,"on":-8,"off":-5,"noff":-10,"n2":-5,"asi":-8},
{"t":228.3,"on":-128,"off":-110,"noff":-140,"n2":-60,"asi":-110},
{"t":228.35,"on":-234,"off":-230,"noff":-260,"n2":-115,"asi":-200},
{"t":228.4,"on":-297,"off":-320,"noff":-330,"n2":-130,"asi":-245},
{"t":228.45,"on":-302,"off":-340,"noff":-335,"n2":-100,"asi":-240},
{"t":228.5,"on":-249,"off":-300,"noff":-290,"n2":-80,"asi":-200},
{"t":228.55,"on":-174,"off":-245,"noff":-210,"n2":-60,"asi":-160},
{"t":228.6,"on":-143,"off":-230,"noff":-165,"n2":-40,"asi":-120},
{"t":228.65,"on":-106,"off":-200,"noff":-120,"n2":-35,"asi":-90},
{"t":228.7,"on":-53,"off":-120,"noff":-60,"n2":-25,"asi":-50},
{"t":228.75,"on":0,"off":0,"noff":0,"n2":0,"asi":0},
{"t":229.25,"on":0,"off":0,"noff":0,"n2":0,"asi":0},
{"t":229.3,"on":-98,"off":-95,"noff":-120,"n2":-30,"asi":-100},
{"t":229.35,"on":-234,"off":-200,"noff":-260,"n2":-55,"asi":-220},
{"t":229.4,"on":-340,"off":-270,"noff":-345,"n2":-62,"asi":-300},
{"t":229.45,"on":-377,"off":-290,"noff":-370,"n2":-65,"asi":-325},
{"t":229.5,"on":-340,"off":-265,"noff":-345,"n2":-60,"asi":-285},
{"t":229.55,"on":-279,"off":-160,"noff":-290,"n2":-55,"asi":-240},
{"t":229.6,"on":-219,"off":-110,"noff":-230,"n2":-45,"asi":-195},
{"t":229.65,"on":-158,"off":-95,"noff":-160,"n2":-35,"asi":-140},
{"t":229.7,"on":-83,"off":-60,"noff":-80,"n2":-20,"asi":-70},
{"t":229.75,"on":0,"off":0,"noff":0,"n2":0,"asi":0},
{"t":230.25,"on":0,"off":0,"noff":0,"n2":0,"asi":0},
{"t":230.3,"on":-91,"off":-40,"noff":-110,"n2":-15,"asi":-90},
{"t":230.35,"on":-219,"off":-55,"noff":-230,"n2":-25,"asi":-200},
{"t":230.4,"on":-272,"off":-50,"noff":-265,"n2":-25,"asi":-250},
{"t":230.45,"on":-291,"off":-40,"noff":-255,"n2":-30,"asi":-255},
{"t":230.5,"on":-234,"off":-45,"noff":-180,"n2":-25,"asi":-190},
{"t":230.55,"on":-158,"off":-30,"noff":-70,"n2":-25,"asi":-100},
{"t":230.6,"on":-125,"off":-30,"noff":-45,"n2":-22,"asi":-40},
{"t":230.65,"on":-98,"off":-25,"noff":-60,"n2":-20,"asi":-30},
{"t":230.7,"on":-68,"off":-15,"noff":-45,"n2":-15,"asi":-15},
{"t":230.75,"on":-23,"off":-5,"noff":-20,"n2":-5,"asi":-5},
{"t":230.78,"on":0,"off":0,"noff":0,"n2":0,"asi":0},
{"t":230.83,"on":0,"off":0,"noff":0,"n2":0,"asi":0}
],
"n":[
{"t":228.0,"on":12.2,"off":12.2,"noff":12,"n2":11.8,"asi":12},
{"t":228.1,"on":12.4,"off":12.5,"noff":12.4,"n2":12,"asi":12.4},
{"t":228.2,"on":12.8,"off":12.8,"noff":12.8,"n2":12.2,"asi":12.8},
{"t":228.25,"on":13,"off":13,"noff":13,"n2":12,"asi":13},
{"t":228.3,"on":13.3,"off":13.2,"noff":13.3,"n2":10,"asi":13.3},
{"t":228.35,"on":13.2,"off":13,"noff":13.2,"n2":7,"asi":13.2},
{"t":228.4,"on":13,"off":12.8,"noff":13,"n2":5,"asi":13},
{"t":228.45,"on":12.3,"off":12.2,"noff":12.2,"n2":3.5,"asi":12.3},
{"t":228.5,"on":11.2,"off":11.5,"noff":11,"n2":2.5,"asi":11.2},
{"t":228.55,"on":10,"off":10.7,"noff":10,"n2":2,"asi":10},
{"t":228.6,"on":9.1,"off":10,"noff":9,"n2":1.5,"asi":9.1},
{"t":228.65,"on":8.1,"off":9.8,"noff":8.3,"n2":1.8,"asi":8.3},
{"t":228.7,"on":9.1,"off":10.5,"noff":9.5,"n2":2,"asi":9.3},
{"t":228.8,"on":12,"off":12.5,"noff":12,"n2":2.5,"asi":12},
{"t":228.9,"on":14.1,"off":14.2,"noff":14.2,"n2":2.8,"asi":14.1},
{"t":229.0,"on":14.7,"off":14.8,"noff":14.7,"n2":2.7,"asi":14.7},
{"t":229.1,"on":15.2,"off":15.3,"noff":15.2,"n2":2.8,"asi":15.2},
{"t":229.2,"on":15.8,"off":16,"noff":15.8,"n2":2.7,"asi":15.7},
{"t":229.3,"on":16.4,"off":17,"noff":16.3,"n2":2.3,"asi":16.2},
{"t":229.35,"on":16.7,"off":17.3,"noff":16.5,"n2":2.2,"asi":16.5},
{"t":229.4,"on":16.8,"off":16.5,"noff":16.5,"n2":2,"asi":16.5},
{"t":229.45,"on":16,"off":13,"noff":15.5,"n2":1.8,"asi":15.5},
{"t":229.5,"on":14.5,"off":9,"noff":14.5,"n2":1.5,"asi":14},
{"t":229.55,"on":12.4,"off":6.8,"noff":12,"n2":1.4,"asi":11.5},
{"t":229.6,"on":11.2,"off":6.5,"noff":11.5,"n2":1.3,"asi":11},
{"t":229.65,"on":11.6,"off":6,"noff":11.8,"n2":1.4,"asi":11.4},
{"t":229.7,"on":12.8,"off":5.5,"noff":12.8,"n2":1.5,"asi":12.5},
{"t":229.8,"on":14.9,"off":5.3,"noff":15.2,"n2":1.5,"asi":14.5},
{"t":229.9,"on":16.2,"off":5,"noff":16.6,"n2":1.6,"asi":15.8},
{"t":230.0,"on":17,"off":6.3,"noff":16.8,"n2":1.5,"asi":16.3},
{"t":230.05,"on":16.8,"off":5.5,"noff":17,"n2":1.4,"asi":16.2},
{"t":230.1,"on":17,"off":4.8,"noff":17,"n2":1.3,"asi":16},
{"t":230.2,"on":17.2,"off":4,"noff":17.5,"n2":1.6,"asi":16.2},
{"t":230.25,"on":17.3,"off":3.8,"noff":19.5,"n2":1.7,"asi":16.4},
{"t":230.3,"on":17.4,"off":3.5,"noff":18,"n2":1.8,"asi":16.5},
{"t":230.35,"on":17.5,"off":3.8,"noff":18,"n2":1.7,"asi":16.8},
{"t":230.4,"on":17.7,"off":2.5,"noff":18,"n2":1.6,"asi":17},
{"t":230.45,"on":15,"off":2,"noff":16,"n2":1.5,"asi":14},
{"t":230.5,"on":8,"off":1.6,"noff":10,"n2":1.3,"asi":5},
{"t":230.55,"on":5.7,"off":1.2,"noff":5,"n2":1.1,"asi":1},
{"t":230.6,"on":3.6,"off":0.9,"noff":1,"n2":1,"asi":0.7},
{"t":230.65,"on":4.9,"off":0.8,"noff":4,"n2":1,"asi":1},
{"t":230.7,"on":4,"off":0.8,"noff":6,"n2":1,"asi":1.5},
{"t":230.75,"on":10,"off":0.8,"noff":8,"n2":1.1,"asi":3},
{"t":230.83,"on":12,"off":0.8,"noff":8,"n2":1.3,"asi":3}
]
},
"concat":[
{"width":255,"height":100,"title":"(a) Cloud fraction","layer":[
 {"data":{"name":"bands"},"mark":{"type":"rect","color":"#f0f0f0","clip":true},"encoding":{"x":{"field":"x0","type":"quantitative","scale":{"domain":[228,230.83],"nice":false,"zero":false},"axis":{"title":null}},"x2":{"field":"x1"}}},
 {"data":{"name":"a"},"transform":[{"fold":["asi","on","off","noff","n2"],"as":["s","v"]},{"filter":"isValid(datum.v)"}],"mark":"line","encoding":{
  "x":{"field":"t","type":"quantitative","axis":{"title":null}},
  "y":{"field":"v","type":"quantitative","scale":{"domain":[0,1.045],"nice":false,"zero":false},"axis":{"title":null,"values":[0,0.2,0.4,0.6,0.8,1],"format":".1f"}},
  "color":{"field":"s","type":"nominal","scale":{"domain":["on","off","noff","n2","asi"],"range":["#000000","#000000","#b2182b","#17becf","#ff9f2a"]},"legend":null},
  "strokeDash":{"field":"s","type":"nominal","scale":{"domain":["on","off","noff","n2","asi"],"range":[[1,0],[6,3],[1,0],[1,0],[1,0]]},"legend":null}}}
]},
{"width":251.5,"height":100,"title":"(b) Inversion height (km)","layer":[
 {"data":{"name":"bands"},"mark":{"type":"rect","color":"#f0f0f0","clip":true},"encoding":{"x":{"field":"x0","type":"quantitative","scale":{"domain":[228,230.794],"nice":false,"zero":false},"axis":{"title":null}},"x2":{"field":"x1"}}},
 {"data":{"name":"b"},"transform":[{"fold":["asi","on","off","noff","n2"],"as":["s","v"]},{"filter":"isValid(datum.v)"}],"mark":"line","encoding":{
  "x":{"field":"t","type":"quantitative","axis":{"title":null}},
  "y":{"field":"v","type":"quantitative","scale":{"domain":[0.6,2.39],"nice":false,"zero":false},"axis":{"title":null,"values":[1,1.5,2],"format":".1f"}},
  "color":{"field":"s","type":"nominal","scale":{"domain":["on","off","noff","n2","asi"],"range":["#000000","#000000","#b2182b","#17becf","#ff9f2a"]},"legend":{"orient":"none","legendX":7,"legendY":-1.5,"columns":2,"title":null,"symbolType":"stroke","symbolSize":400,"symbolStrokeWidth":1.8,"labelFontSize":10,"labelColor":"#000000","padding":0,"rowPadding":-7,"columnPadding":10,"labelOffset":5,"labelExpr":"datum.label=='on'?'AllOn':datum.label=='off'?'AllOff':datum.label=='noff'?'NOff':datum.label=='n2'?'AllOffₙ/₂':'AsiAbs'"}},
  "strokeDash":{"field":"s","type":"nominal","scale":{"domain":["on","off","noff","n2","asi"],"range":[[1,0],[6,3],[1,0],[1,0],[1,0]]},"legend":{"orient":"none","legendX":7,"legendY":-1.5,"columns":2,"title":null,"symbolType":"stroke","symbolSize":400,"symbolStrokeWidth":1.8,"labelFontSize":10,"labelColor":"#000000","padding":0,"rowPadding":-7,"columnPadding":10,"labelOffset":5,"labelExpr":"datum.label=='on'?'AllOn':datum.label=='off'?'AllOff':datum.label=='noff'?'NOff':datum.label=='n2'?'AllOffₙ/₂':'AsiAbs'"}}}}
]},
{"width":255,"height":100,"title":"(c) Cloud-weighted Nc (mg⁻¹)","layer":[
 {"data":{"name":"bands"},"mark":{"type":"rect","color":"#f0f0f0","clip":true},"encoding":{"x":{"field":"x0","type":"quantitative","scale":{"domain":[228,230.83],"nice":false,"zero":false},"axis":{"title":null}},"x2":{"field":"x1"}}},
 {"data":{"name":"c"},"transform":[{"fold":["asi","on","off","noff","n2"],"as":["s","v"]},{"filter":"isValid(datum.v)"}],"mark":"line","encoding":{
  "x":{"field":"t","type":"quantitative","axis":{"title":null}},
  "y":{"field":"v","type":"quantitative","scale":{"domain":[0,1294],"nice":false,"zero":false},"axis":{"title":null,"values":[0,200,400,600,800,1000,1200],"format":"d"}},
  "color":{"field":"s","type":"nominal","scale":{"domain":["on","off","noff","n2","asi"],"range":["#000000","#000000","#b2182b","#17becf","#ff9f2a"]},"legend":null},
  "strokeDash":{"field":"s","type":"nominal","scale":{"domain":["on","off","noff","n2","asi"],"range":[[1,0],[6,3],[1,0],[1,0],[1,0]]},"legend":null}}}
]},
{"width":251.5,"height":100,"title":"(d) MBL-average Nₐ (mg⁻¹)","layer":[
 {"data":{"name":"bands"},"mark":{"type":"rect","color":"#f0f0f0","clip":true},"encoding":{"x":{"field":"x0","type":"quantitative","scale":{"domain":[228,230.794],"nice":false,"zero":false},"axis":{"title":null}},"x2":{"field":"x1"}}},
 {"data":{"name":"d"},"transform":[{"fold":["asi","on","off","noff","n2"],"as":["s","v"]},{"filter":"isValid(datum.v)"}],"mark":"line","encoding":{
  "x":{"field":"t","type":"quantitative","axis":{"title":null}},
  "y":{"field":"v","type":"quantitative","scale":{"type":"log","domain":[7.07,1277],"nice":false},"axis":{"title":null,"values":[10,100,1000],"labelExpr":"datum.value<50?'10¹':datum.value<500?'10²':'10³'"}},
  "color":{"field":"s","type":"nominal","scale":{"domain":["on","off","noff","n2","asi"],"range":["#000000","#000000","#b2182b","#17becf","#ff9f2a"]},"legend":null},
  "strokeDash":{"field":"s","type":"nominal","scale":{"domain":["on","off","noff","n2","asi"],"range":[[1,0],[6,3],[1,0],[1,0],[1,0]]},"legend":null}}}
]},
{"width":255,"height":100,"title":"(e) In-cloud liquid water path (g m⁻²)","layer":[
 {"data":{"name":"bands"},"mark":{"type":"rect","color":"#f0f0f0","clip":true},"encoding":{"x":{"field":"x0","type":"quantitative","scale":{"domain":[228,230.83],"nice":false,"zero":false},"axis":{"title":null}},"x2":{"field":"x1"}}},
 {"data":{"name":"e"},"transform":[{"fold":["asi","on","off","noff","n2"],"as":["s","v"]},{"filter":"isValid(datum.v)"}],"mark":"line","encoding":{
  "x":{"field":"t","type":"quantitative","axis":{"title":null}},
  "y":{"field":"v","type":"quantitative","scale":{"domain":[0,200],"nice":false,"zero":false},"axis":{"title":null,"values":[0,50,100,150,200],"format":"d"}},
  "color":{"field":"s","type":"nominal","scale":{"domain":["on","off","noff","n2","asi"],"range":["#000000","#000000","#b2182b","#17becf","#ff9f2a"]},"legend":null},
  "strokeDash":{"field":"s","type":"nominal","scale":{"domain":["on","off","noff","n2","asi"],"range":[[1,0],[6,3],[1,0],[1,0],[1,0]]},"legend":null}}}
]},
{"width":251.5,"height":100,"title":"(f) Rain water path (g m⁻²)","layer":[
 {"data":{"name":"bands"},"mark":{"type":"rect","color":"#f0f0f0","clip":true},"encoding":{"x":{"field":"x0","type":"quantitative","scale":{"domain":[228,230.794],"nice":false,"zero":false},"axis":{"title":null}},"x2":{"field":"x1"}}},
 {"data":{"name":"f"},"transform":[{"fold":["asi","on","off","noff","n2"],"as":["s","v"]},{"filter":"isValid(datum.v)"}],"mark":"line","encoding":{
  "x":{"field":"t","type":"quantitative","axis":{"title":null}},
  "y":{"field":"v","type":"quantitative","scale":{"type":"log","domain":[0.001,100],"nice":false},"axis":{"title":null,"values":[0.001,0.01,0.1,1,10,100],"labelExpr":"datum.value<0.005?'10⁻³':datum.value<0.05?'10⁻²':datum.value<0.5?'10⁻¹':datum.value<5?'10⁰':datum.value<50?'10¹':'10²'"}},
  "color":{"field":"s","type":"nominal","scale":{"domain":["on","off","noff","n2","asi"],"range":["#000000","#000000","#b2182b","#17becf","#ff9f2a"]},"legend":null},
  "strokeDash":{"field":"s","type":"nominal","scale":{"domain":["on","off","noff","n2","asi"],"range":[[1,0],[6,3],[1,0],[1,0],[1,0]]},"legend":null}}}
]},
{"width":255,"height":100,"title":"(g) Cloud optical thickness","layer":[
 {"data":{"name":"bands"},"mark":{"type":"rect","color":"#f0f0f0","clip":true},"encoding":{"x":{"field":"x0","type":"quantitative","scale":{"domain":[228,230.83],"nice":false,"zero":false},"axis":{"title":null}},"x2":{"field":"x1"}}},
 {"data":{"name":"g"},"transform":[{"fold":["asi","on","off","noff","n2"],"as":["s","v"]},{"filter":"isValid(datum.v)"}],"mark":"line","encoding":{
  "x":{"field":"t","type":"quantitative","axis":{"title":null}},
  "y":{"field":"v","type":"quantitative","scale":{"domain":[0,35],"nice":false,"zero":false},"axis":{"title":null,"values":[0,5,10,15,20,25,30,35],"format":"d"}},
  "color":{"field":"s","type":"nominal","scale":{"domain":["on","off","noff","n2","asi"],"range":["#000000","#000000","#b2182b","#17becf","#ff9f2a"]},"legend":null},
  "strokeDash":{"field":"s","type":"nominal","scale":{"domain":["on","off","noff","n2","asi"],"range":[[1,0],[6,3],[1,0],[1,0],[1,0]]},"legend":null}}}
]},
{"width":251.5,"height":100,"title":"(h) MBL-average TKE (m² s⁻²)","layer":[
 {"data":{"name":"bands"},"mark":{"type":"rect","color":"#f0f0f0","clip":true},"encoding":{"x":{"field":"x0","type":"quantitative","scale":{"domain":[228,230.794],"nice":false,"zero":false},"axis":{"title":null}},"x2":{"field":"x1"}}},
 {"data":{"name":"h"},"transform":[{"fold":["asi","on","off","noff","n2"],"as":["s","v"]},{"filter":"isValid(datum.v)"}],"mark":"line","encoding":{
  "x":{"field":"t","type":"quantitative","axis":{"title":null}},
  "y":{"field":"v","type":"quantitative","scale":{"domain":[0,1],"nice":false,"zero":false},"axis":{"title":null,"values":[0,0.2,0.4,0.6,0.8,1],"format":".1f"}},
  "color":{"field":"s","type":"nominal","scale":{"domain":["on","off","noff","n2","asi"],"range":["#000000","#000000","#b2182b","#17becf","#ff9f2a"]},"legend":null},
  "strokeDash":{"field":"s","type":"nominal","scale":{"domain":["on","off","noff","n2","asi"],"range":[[1,0],[6,3],[1,0],[1,0],[1,0]]},"legend":null}}}
]},
{"width":255,"height":100,"title":"(i) Inversion jump in θₗ (K)","layer":[
 {"data":{"name":"bands"},"mark":{"type":"rect","color":"#f0f0f0","clip":true},"encoding":{"x":{"field":"x0","type":"quantitative","scale":{"domain":[228,230.83],"nice":false,"zero":false},"axis":{"title":null}},"x2":{"field":"x1"}}},
 {"data":{"name":"i"},"transform":[{"fold":["asi","on","off","noff","n2"],"as":["s","v"]},{"filter":"isValid(datum.v)"}],"mark":"line","encoding":{
  "x":{"field":"t","type":"quantitative","axis":{"title":null}},
  "y":{"field":"v","type":"quantitative","scale":{"domain":[1.6,14.05],"nice":false,"zero":false},"axis":{"title":null,"values":[2,4,6,8,10,12,14],"format":"d"}},
  "color":{"field":"s","type":"nominal","scale":{"domain":["on","off","noff","n2","asi"],"range":["#000000","#000000","#b2182b","#17becf","#ff9f2a"]},"legend":null},
  "strokeDash":{"field":"s","type":"nominal","scale":{"domain":["on","off","noff","n2","asi"],"range":[[1,0],[6,3],[1,0],[1,0],[1,0]]},"legend":null}}}
]},
{"width":251.5,"height":100,"title":"(j) Relative humidity above inversion (%)","layer":[
 {"data":{"name":"bands"},"mark":{"type":"rect","color":"#f0f0f0","clip":true},"encoding":{"x":{"field":"x0","type":"quantitative","scale":{"domain":[228,230.794],"nice":false,"zero":false},"axis":{"title":null}},"x2":{"field":"x1"}}},
 {"data":{"name":"j"},"transform":[{"fold":["asi","on","off","noff","n2"],"as":["s","v"]},{"filter":"isValid(datum.v)"}],"mark":"line","encoding":{
  "x":{"field":"t","type":"quantitative","axis":{"title":null}},
  "y":{"field":"v","type":"quantitative","scale":{"domain":[0,40],"nice":false,"zero":false},"axis":{"title":null,"values":[0,10,20,30,40],"format":"d"}},
  "color":{"field":"s","type":"nominal","scale":{"domain":["on","off","noff","n2","asi"],"range":["#000000","#000000","#b2182b","#17becf","#ff9f2a"]},"legend":null},
  "strokeDash":{"field":"s","type":"nominal","scale":{"domain":["on","off","noff","n2","asi"],"range":[[1,0],[6,3],[1,0],[1,0],[1,0]]},"legend":null}}}
]},
{"width":255,"height":100,"title":"(k) Decoupling parameter ΔqT (g kg⁻¹)","layer":[
 {"data":{"name":"bands"},"mark":{"type":"rect","color":"#f0f0f0","clip":true},"encoding":{"x":{"field":"x0","type":"quantitative","scale":{"domain":[228,230.83],"nice":false,"zero":false},"axis":{"title":null}},"x2":{"field":"x1"}}},
 {"data":{"name":"k"},"transform":[{"fold":["asi","on","off","noff","n2"],"as":["s","v"]},{"filter":"isValid(datum.v)"}],"mark":"line","encoding":{
  "x":{"field":"t","type":"quantitative","axis":{"title":null}},
  "y":{"field":"v","type":"quantitative","scale":{"domain":[0,8],"nice":false,"zero":false},"axis":{"title":null,"values":[0,2,4,6,8],"format":"d"}},
  "color":{"field":"s","type":"nominal","scale":{"domain":["on","off","noff","n2","asi"],"range":["#000000","#000000","#b2182b","#17becf","#ff9f2a"]},"legend":null},
  "strokeDash":{"field":"s","type":"nominal","scale":{"domain":["on","off","noff","n2","asi"],"range":[[1,0],[6,3],[1,0],[1,0],[1,0]]},"legend":null}}}
]},
{"width":251.5,"height":100,"title":"(l) Surface fluxes (W m⁻²)","layer":[
 {"data":{"name":"bands"},"mark":{"type":"rect","color":"#f0f0f0","clip":true},"encoding":{"x":{"field":"x0","type":"quantitative","scale":{"domain":[228,230.794],"nice":false,"zero":false},"axis":{"title":null}},"x2":{"field":"x1"}}},
 {"data":{"name":"l"},"transform":[{"fold":["asi","on","off","noff","n2"],"as":["s","v"]},{"filter":"isValid(datum.v)"}],"mark":"line","encoding":{
  "x":{"field":"t","type":"quantitative","axis":{"title":null}},
  "y":{"field":"v","type":"quantitative","scale":{"domain":[117,266],"nice":false,"zero":false},"axis":{"title":null,"values":[125,150,175,200,225,250],"format":"d"}},
  "color":{"field":"s","type":"nominal","scale":{"domain":["on","off","noff","n2","asi"],"range":["#000000","#000000","#b2182b","#17becf","#ff9f2a"]},"legend":null},
  "strokeDash":{"field":"s","type":"nominal","scale":{"domain":["on","off","noff","n2","asi"],"range":[[1,0],[6,3],[1,0],[1,0],[1,0]]},"legend":null}}}
]},
{"width":255,"height":100,"title":"(m) Shortwave cloud radiative effect (W m⁻²)","layer":[
 {"data":{"name":"bands"},"mark":{"type":"rect","color":"#f0f0f0","clip":true},"encoding":{"x":{"field":"x0","type":"quantitative","scale":{"domain":[228,230.83],"nice":false,"zero":false},"axis":{"title":"Time (day-of-year)","labels":true,"ticks":true,"values":[228.5,229,229.5,230,230.5],"format":".1f"}},"x2":{"field":"x1"}}},
 {"data":{"name":"m"},"transform":[{"fold":["asi","on","off","noff","n2"],"as":["s","v"]},{"filter":"isValid(datum.v)"}],"mark":"line","encoding":{
  "x":{"field":"t","type":"quantitative","axis":{"title":"Time (day-of-year)","labels":true,"ticks":true,"values":[228.5,229,229.5,230,230.5],"format":".1f"}},
  "y":{"field":"v","type":"quantitative","scale":{"domain":[-450,0],"nice":false,"zero":false},"axis":{"title":null,"values":[-400,-300,-200,-100,0],"labelExpr":"replace(format(datum.value,'d'),'-','−')"}},
  "color":{"field":"s","type":"nominal","scale":{"domain":["on","off","noff","n2","asi"],"range":["#000000","#000000","#b2182b","#17becf","#ff9f2a"]},"legend":null},
  "strokeDash":{"field":"s","type":"nominal","scale":{"domain":["on","off","noff","n2","asi"],"range":[[1,0],[6,3],[1,0],[1,0],[1,0]]},"legend":null}}}
]},
{"width":251.5,"height":100,"title":"(n) Longwave cloud radiative effect (W m⁻²)","layer":[
 {"data":{"name":"bands"},"mark":{"type":"rect","color":"#f0f0f0","clip":true},"encoding":{"x":{"field":"x0","type":"quantitative","scale":{"domain":[228,230.794],"nice":false,"zero":false},"axis":{"title":"Time (day-of-year)","labels":true,"ticks":true,"values":[228.5,229,229.5,230,230.5],"format":".1f"}},"x2":{"field":"x1"}}},
 {"data":{"name":"n"},"transform":[{"fold":["asi","on","off","noff","n2"],"as":["s","v"]},{"filter":"isValid(datum.v)"}],"mark":"line","encoding":{
  "x":{"field":"t","type":"quantitative","axis":{"title":"Time (day-of-year)","labels":true,"ticks":true,"values":[228.5,229,229.5,230,230.5],"format":".1f"}},
  "y":{"field":"v","type":"quantitative","scale":{"domain":[0,25],"nice":false,"zero":false},"axis":{"title":null,"values":[0,5,10,15,20,25],"format":"d"}},
  "color":{"field":"s","type":"nominal","scale":{"domain":["on","off","noff","n2","asi"],"range":["#000000","#000000","#b2182b","#17becf","#ff9f2a"]},"legend":null},
  "strokeDash":{"field":"s","type":"nominal","scale":{"domain":["on","off","noff","n2","asi"],"range":[[1,0],[6,3],[1,0],[1,0],[1,0]]},"legend":null}}}
]}
]
}
